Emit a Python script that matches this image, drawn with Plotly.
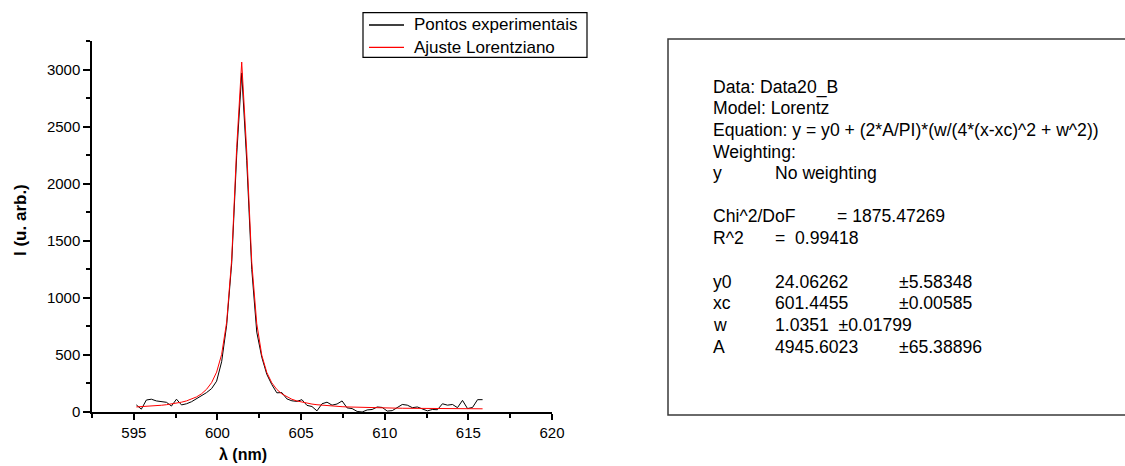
import plotly.graph_objects as go

# Wavelength grid (nm) and measured intensity (arb. units)
wavelength = [
    595.15, 595.45, 595.75, 596.05, 596.35, 596.65, 596.95, 597.25, 597.55, 597.85,
    598.15, 598.45, 598.75, 599.05, 599.35, 599.65, 599.95, 600.25, 600.55, 600.85,
    601.15, 601.45, 601.75, 602.05, 602.35, 602.65, 602.95, 603.25, 603.55, 603.85,
    604.15, 604.45, 604.75, 605.05, 605.35, 605.65, 605.95, 606.25, 606.55, 606.85,
    607.15, 607.45, 607.75, 608.05, 608.35, 608.65, 608.95, 609.25, 609.55, 609.85,
    610.15, 610.45, 610.75, 611.05, 611.35, 611.65, 611.95, 612.25, 612.55, 612.85,
    613.15, 613.45, 613.75, 614.05, 614.35, 614.65, 614.95, 615.25, 615.55, 615.85,
]
intensity = [
    62, 25, 105, 112, 97, 92, 85, 52, 112, 62,
    72, 90, 118, 140, 170, 205, 270, 440, 760, 1300,
    2250, 2970, 2200, 1250, 700, 480, 330, 240, 168, 170,
    115, 98, 93, 108, 58, 48, 10, 72, 86, 60,
    70, 97, 36, 30, 5, 0, 18, 22, 44, 40,
    8, 12, 40, 66, 60, 38, 44, 25, 10, 22,
    20, 72, 60, 66, 38, 102, 30, 40, 108, 108,
]
assert len(wavelength) == len(intensity)

# Lorentz fit parameters
y0, y0_err = 24.06262, 5.58348
xc, xc_err = 601.4455, 0.00585
w, w_err = 1.0351, 0.01799
A, A_err = 4945.6023, 65.38896
chi2_dof = 1875.47269
r2 = 0.99418

PI = 3.141592653589793
fit = [y0 + (2 * A / PI) * (w / (4 * (x - xc) ** 2 + w ** 2)) for x in wavelength]

series_names = ["Pontos experimentais", "Ajuste Lorentziano"]
series_colors = ["black", "#ff0000"]

x_ticks = [595, 600, 605, 610, 615, 620]
y_ticks = [0, 500, 1000, 1500, 2000, 2500, 3000]

W, H = 1125, 466
L, R, T, B = 92, 552, 41, 412  # plot area in pixels


def px(xp):
    return (xp - L) / (R - L)


def py(yp):
    return (B - yp) / (B - T)


FONT = "Liberation Sans, Arial, sans-serif"

fig = go.Figure()
for yy, name, color in zip([intensity, fit], series_names, series_colors):
    fig.add_trace(go.Scatter(x=wavelength, y=yy, mode="lines",
                             line=dict(color=color, width=1), name=name))

axis_common = dict(showline=True, linecolor="black", linewidth=1.5,
                   ticks="outside", tickcolor="black", tickwidth=1.5,
                   showgrid=False, zeroline=False,
                   tickfont=dict(family=FONT, size=15, color="black"))

fig.update_xaxes(range=[592.5, 620], tickvals=x_ticks, ticklen=6,
                 minor=dict(dtick=2.5, tick0=592.5, ticks="outside", ticklen=4,
                            tickcolor="black", tickwidth=1.5),
                 **axis_common)
fig.update_yaxes(range=[0, 3250], tickvals=y_ticks, ticklen=7,
                 minor=dict(dtick=250, tick0=0, ticks="outside", ticklen=4,
                            tickcolor="black", tickwidth=1.5),
                 **axis_common)

shapes = [
    # fit report frame
    dict(type="rect", xref="paper", yref="paper",
         x0=px(668), x1=px(1130), y0=py(415), y1=py(39),
         line=dict(color="#3a3a3a", width=1.5), fillcolor="rgba(0,0,0,0)"),
    # legend frame
    dict(type="rect", xref="paper", yref="paper",
         x0=px(363), x1=px(587), y0=py(57.3), y1=py(12.7),
         line=dict(color="black", width=1.2), fillcolor="white", layer="above"),
]

annotations = [
    dict(text="<b>I (u. arb.)</b>", xref="paper", yref="paper", x=px(20), y=py(220),
         textangle=-90, showarrow=False, font=dict(family=FONT, size=17, color="black"),
         xanchor="center", yanchor="middle"),
    dict(text="<b>λ (nm)</b>", xref="paper", yref="paper", x=px(243), y=py(454),
         showarrow=False, font=dict(family=FONT, size=16, color="black"),
         xanchor="center", yanchor="middle"),
]

# legend entries
for i, (name, color) in enumerate(zip(series_names, series_colors)):
    yrow = 25 + 22.3 * i
    shapes.append(dict(type="line", xref="paper", yref="paper",
                       x0=px(369), x1=px(404), y0=py(yrow), y1=py(yrow),
                       line=dict(color=color, width=1.3), layer="above"))
    annotations.append(dict(text=name, xref="paper", yref="paper", x=px(412), y=py(yrow),
                            showarrow=False, xanchor="left", yanchor="middle",
                            font=dict(family=FONT, size=17, color="black")))

# Fit report text
c1, c2, c3 = 711, 773, 897
lines = [
    (87, [(c1, "Data: Data20_B")]),
    (108, [(c1, "Model: Lorentz")]),
    (130, [(c1, "Equation: y = y0 + (2*A/PI)*(w/(4*(x-xc)^2 + w^2))")]),
    (152, [(c1, "Weighting:")]),
    (173, [(c1, "y"), (c2, "No weighting")]),
    (216, [(c1, "Chi^2/DoF"), (835, f"= {chi2_dof:.5f}")]),
    (238, [(c1, "R^2"), (c2, f"=  {r2:.5f}")]),
    (282, [(c1, "y0"), (c2, f"{y0:.5f}"), (c3, f"±{y0_err:.5f}")]),
    (303, [(c1, "xc"), (c2, f"{xc:.4f}"), (c3, f"±{xc_err:.5f}")]),
    (325, [(c1, "w"), (c2, f"{w:.4f}  ±{w_err:.5f}")]),
    (347, [(c1, "A"), (c2, f"{A:.4f}"), (c3, f"±{A_err:.5f}")]),
]
for yline, parts in lines:
    for xpos, txt in parts:
        annotations.append(dict(text=txt, xref="paper", yref="paper", x=px(xpos), y=py(yline),
                                showarrow=False, xanchor="left", yanchor="middle",
                                font=dict(family=FONT, size=17.6, color="black")))

fig.update_layout(
    width=W, height=H,
    margin=dict(l=L, r=W - R, t=T, b=H - B),
    paper_bgcolor="white", plot_bgcolor="white",
    shapes=shapes, annotations=annotations,
    showlegend=False,
)

fig.write_html("out.html")
